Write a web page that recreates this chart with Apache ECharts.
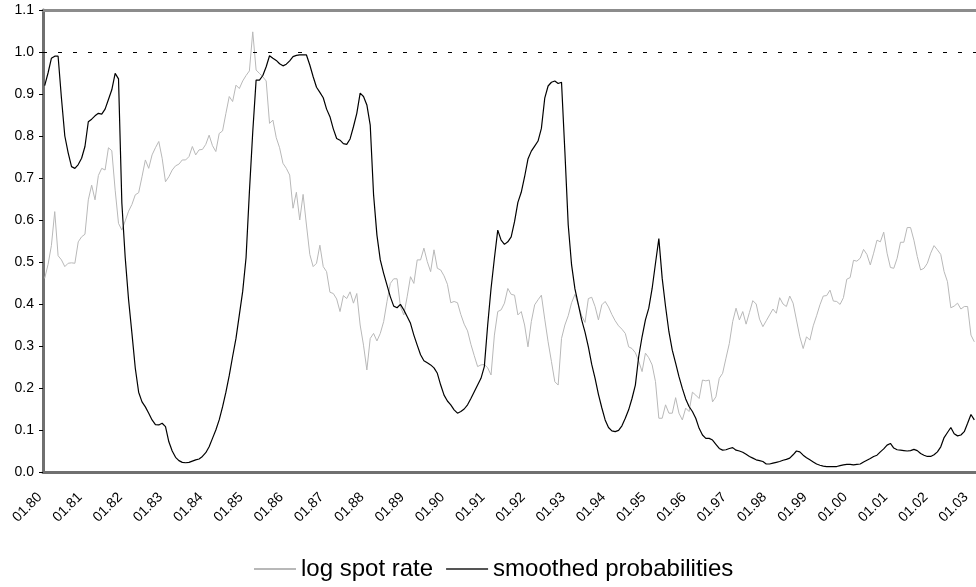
<!DOCTYPE html>
<html>
<head>
<meta charset="utf-8">
<script src="https://cdn.jsdelivr.net/npm/echarts@6/dist/echarts.min.js"></script>
<style>
    html, body { margin: 0; padding: 0; background: #fff; }
    #chart { width: 976px; height: 587px; }
</style>
</head>
<body>
<div id="chart"></div>
<script>
// monthly categories, 01.80 onwards
let startYear = 1980
let monthCount = 278
let months = []
for (let i = 0; i < monthCount; i++) {
    let m = (i % 12) + 1
    let y = (startYear + Math.floor(i / 12)) % 100
    months.push((m < 10 ? '0' + m : '' + m) + '.' + (y < 10 ? '0' + y : '' + y))
}

// log spot rate (light grey line)
let spotRate = [
    0.461, 0.494, 0.539, 0.620, 0.515, 0.505, 0.489, 0.497, 0.498, 0.497, 0.548, 0.560,
    0.566, 0.648, 0.683, 0.648, 0.706, 0.723, 0.719, 0.772, 0.765, 0.671, 0.592, 0.576,
    0.598, 0.621, 0.637, 0.660, 0.665, 0.703, 0.743, 0.723, 0.755, 0.772, 0.787, 0.747,
    0.691, 0.703, 0.719, 0.729, 0.733, 0.743, 0.743, 0.751, 0.775, 0.755, 0.767, 0.768,
    0.780, 0.802, 0.777, 0.763, 0.806, 0.812, 0.854, 0.894, 0.882, 0.921, 0.913, 0.931,
    0.944, 0.955, 1.048, 0.957, 0.949, 0.941, 0.931, 0.830, 0.838, 0.796, 0.772, 0.735,
    0.723, 0.707, 0.628, 0.666, 0.600, 0.661, 0.588, 0.518, 0.489, 0.497, 0.540, 0.489,
    0.477, 0.428, 0.425, 0.412, 0.382, 0.420, 0.413, 0.429, 0.402, 0.425, 0.350, 0.302,
    0.243, 0.318, 0.330, 0.312, 0.330, 0.358, 0.406, 0.449, 0.460, 0.460, 0.394, 0.374,
    0.417, 0.465, 0.449, 0.505, 0.505, 0.533, 0.501, 0.477, 0.529, 0.485, 0.481, 0.467,
    0.447, 0.403, 0.406, 0.403, 0.375, 0.352, 0.336, 0.304, 0.277, 0.251, 0.255, 0.256,
    0.248, 0.231, 0.326, 0.382, 0.386, 0.402, 0.437, 0.423, 0.421, 0.374, 0.382, 0.350,
    0.298, 0.358, 0.398, 0.410, 0.421, 0.364, 0.310, 0.263, 0.215, 0.207, 0.318, 0.350,
    0.372, 0.403, 0.423, 0.398, 0.372, 0.356, 0.413, 0.416, 0.394, 0.362, 0.398, 0.406,
    0.393, 0.375, 0.360, 0.348, 0.340, 0.330, 0.298, 0.294, 0.284, 0.264, 0.239, 0.283,
    0.272, 0.255, 0.215, 0.128, 0.128, 0.160, 0.140, 0.140, 0.177, 0.140, 0.124, 0.152,
    0.144, 0.190, 0.183, 0.175, 0.219, 0.217, 0.219, 0.167, 0.179, 0.223, 0.235, 0.271,
    0.306, 0.358, 0.390, 0.362, 0.382, 0.352, 0.380, 0.408, 0.400, 0.364, 0.346, 0.360,
    0.374, 0.388, 0.378, 0.415, 0.400, 0.394, 0.419, 0.402, 0.362, 0.322, 0.294, 0.322,
    0.314, 0.348, 0.372, 0.398, 0.419, 0.420, 0.433, 0.407, 0.406, 0.399, 0.415, 0.459,
    0.463, 0.504, 0.502, 0.509, 0.530, 0.518, 0.493, 0.521, 0.552, 0.548, 0.571, 0.521,
    0.487, 0.485, 0.509, 0.547, 0.547, 0.582, 0.582, 0.552, 0.513, 0.481, 0.485, 0.497,
    0.521, 0.539, 0.529, 0.518, 0.477, 0.453, 0.391, 0.395, 0.402, 0.388, 0.394, 0.394,
    0.326, 0.310
]

// smoothed probabilities (black line)
let smoothProb = [
    0.920, 0.950, 0.985, 0.990, 0.990, 0.890, 0.800, 0.760, 0.727, 0.723, 0.732, 0.747,
    0.775, 0.834, 0.840, 0.848, 0.854, 0.852, 0.864, 0.887, 0.910, 0.949, 0.936, 0.640,
    0.510, 0.410, 0.330, 0.247, 0.190, 0.167, 0.155, 0.140, 0.124, 0.113, 0.112, 0.116,
    0.108, 0.072, 0.050, 0.035, 0.027, 0.023, 0.022, 0.023, 0.026, 0.029, 0.031, 0.037,
    0.046, 0.060, 0.080, 0.100, 0.124, 0.155, 0.190, 0.230, 0.275, 0.318, 0.374, 0.430,
    0.510, 0.667, 0.810, 0.933, 0.933, 0.944, 0.965, 0.991, 0.985, 0.980, 0.972, 0.967,
    0.971, 0.979, 0.989, 0.992, 0.993, 0.993, 0.993, 0.969, 0.941, 0.916, 0.904, 0.891,
    0.864, 0.846, 0.817, 0.794, 0.790, 0.782, 0.780, 0.793, 0.822, 0.854, 0.902, 0.894,
    0.874, 0.826, 0.660, 0.564, 0.505, 0.473, 0.445, 0.417, 0.395, 0.391, 0.399, 0.386,
    0.370, 0.354, 0.326, 0.302, 0.279, 0.265, 0.260, 0.255, 0.248, 0.235, 0.207, 0.183,
    0.169, 0.160, 0.148, 0.140, 0.144, 0.150, 0.160, 0.175, 0.191, 0.207, 0.223, 0.251,
    0.350, 0.437, 0.509, 0.576, 0.552, 0.542, 0.548, 0.560, 0.596, 0.642, 0.666, 0.703,
    0.745, 0.764, 0.776, 0.788, 0.818, 0.890, 0.919, 0.928, 0.931, 0.925, 0.928, 0.763,
    0.588, 0.493, 0.436, 0.399, 0.362, 0.333, 0.298, 0.256, 0.223, 0.185, 0.153, 0.124,
    0.106, 0.098, 0.096, 0.099, 0.110, 0.128, 0.148, 0.175, 0.207, 0.275, 0.322, 0.362,
    0.390, 0.437, 0.497, 0.556, 0.461, 0.394, 0.334, 0.290, 0.259, 0.227, 0.199, 0.174,
    0.156, 0.144, 0.128, 0.104, 0.088, 0.080, 0.080, 0.076, 0.066, 0.056, 0.052, 0.053,
    0.056, 0.058, 0.052, 0.050, 0.047, 0.042, 0.037, 0.033, 0.029, 0.027, 0.025, 0.019,
    0.019, 0.021, 0.023, 0.025, 0.028, 0.030, 0.033, 0.041, 0.050, 0.048, 0.040, 0.034,
    0.029, 0.024, 0.019, 0.016, 0.014, 0.013, 0.013, 0.013, 0.013, 0.015, 0.017, 0.018,
    0.018, 0.017, 0.018, 0.019, 0.024, 0.028, 0.032, 0.037, 0.040, 0.048, 0.055, 0.064,
    0.068, 0.057, 0.053, 0.052, 0.051, 0.050, 0.051, 0.054, 0.051, 0.044, 0.040, 0.037,
    0.037, 0.041, 0.048, 0.060, 0.082, 0.094, 0.106, 0.091, 0.086, 0.088, 0.096, 0.116,
    0.137, 0.124
]

let refLevel = 1.0

let myChart = echarts.init(document.getElementById('chart'))
let option = {
    animation: false,
    textStyle: { fontFamily: 'Liberation Sans, Arial, sans-serif' },
    grid: {
        left: 43,
        right: -1,
        top: 10,
        bottom: 115
    },
    legend: {
        left: 249,
        top: 552,
        icon: 'rect',
        itemWidth: 42,
        itemHeight: 2,
        itemGap: 13,
        textStyle: { fontSize: 24, color: '#000' },
        data: ['log spot rate', 'smoothed probabilities']
    },
    xAxis: [
        {
            type: 'category',
            data: months,
            boundaryGap: true,
            axisLine: { lineStyle: { color: '#707070', width: 3 } },
            axisTick: { interval: 11, length: 4, lineStyle: { color: '#000' } },
            axisLabel: {
                interval: 11,
                rotate: 45,
                margin: 28,
                align: 'right',
                verticalAlign: 'bottom',
                fontSize: 14,
                color: '#000'
            },
            splitLine: { show: false }
        },
        {
            // top frame line of the plot area
            type: 'category',
            data: months,
            position: 'top',
            axisLine: { lineStyle: { color: '#8c8c8c', width: 3 } },
            axisTick: { show: false },
            axisLabel: { show: false },
            splitLine: { show: false }
        }
    ],
    yAxis: {
        type: 'value',
        min: 0,
        max: 1.1,
        interval: 0.1,
        axisLine: { show: true, lineStyle: { color: '#707070', width: 3 } },
        axisTick: { show: true, length: 4, lineStyle: { color: '#000' } },
        axisLabel: {
            margin: 9,
            fontSize: 14,
            color: '#000',
            formatter: function (v) { return v.toFixed(1) }
        },
        splitLine: { show: false }
    },
    series: [
        {
            name: 'log spot rate',
            type: 'line',
            data: spotRate,
            symbol: 'none',
            lineStyle: { color: '#b8b8b8', width: 1 },
            itemStyle: { color: '#b8b8b8' }
        },
        {
            name: 'smoothed probabilities',
            type: 'line',
            data: smoothProb,
            symbol: 'none',
            lineStyle: { color: '#000', width: 1.2 },
            itemStyle: { color: '#555' },
            markLine: {
                silent: true,
                symbol: 'none',
                label: { show: false },
                lineStyle: { color: '#000', type: [4, 11], width: 1 },
                data: [{ yAxis: refLevel }]
            }
        }
    ]
}
myChart.setOption(option)
window.addEventListener('resize', function () {
    myChart.resize()
})
</script>
</body>
</html>
